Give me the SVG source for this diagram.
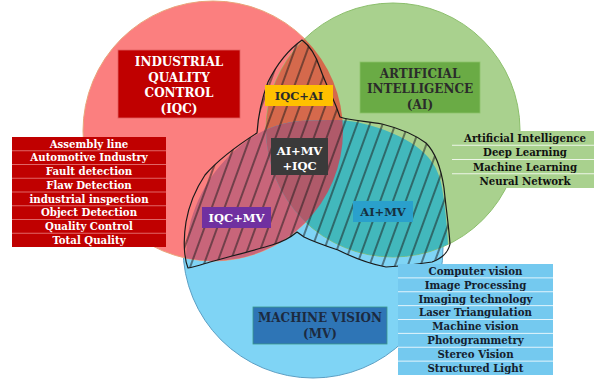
<svg xmlns="http://www.w3.org/2000/svg" width="596" height="381" viewBox="0 0 596 381">
<style>
.t{font-family:"DejaVu Serif","Liberation Serif",serif;font-weight:bold;text-anchor:middle}
.title{font-size:12px}
.lbl{font-size:11.5px}
.li{font-size:10.2px}
.w{fill:#ffffff}
.d{fill:#2b2b2b}
.sep{stroke-width:0.8}
</style>
<defs>
<clipPath id="cR"><circle cx="213" cy="131" r="130"/></clipPath>
<clipPath id="cG"><circle cx="393" cy="130" r="127"/></clipPath>
<path id="bshape" d="M186,300 L186,262 C186,245 188,232 191,220 C197,200 205,185 215,172 C230,153 245,140 263,131 C276,125 288,122 300,121 C313,120 326,120 338,120 C356,121 372,125 387,131 C405,138 418,146 428,157 C436,166 440,176 442,188 C445,205 447,225 448,245 L449,262 L449,300 Z"/>
<pattern id="hatch" patternUnits="userSpaceOnUse" width="12" height="12" patternTransform="rotate(20)">
<line x1="6" y1="-1" x2="6" y2="13" stroke="#1a1a1a" stroke-width="1"/>
</pattern>
</defs>
<rect width="596" height="381" fill="#ffffff"/>
<g id="circles">
<circle cx="313" cy="248" r="130" fill="#7fd4f5" stroke="#5b9fc4" stroke-width="1"/>
<circle cx="213" cy="131" r="130" fill="#fb7f7f" stroke="#e9a57a" stroke-width="1"/>
<circle cx="393" cy="130" r="127" fill="#a9d18e" stroke="#8cbf6c" stroke-width="1"/>
<circle cx="393" cy="130" r="127" fill="#d5694c" clip-path="url(#cR)"/>
<use href="#bshape" fill="#c8657a" clip-path="url(#cR)"/>
<use href="#bshape" fill="#42b8bc" clip-path="url(#cG)"/>
<g clip-path="url(#cR)"><use href="#bshape" fill="#b05a6a" clip-path="url(#cG)"/></g>
</g>
<g id="overlap-hatch">
<path d="M302,40 C310,46 316,56 320,68 C325,82 331,94 336,106 L340,117 C352,121 368,121 382,124 C398,128 414,134 426,143 C436,153 441,168 444,188 C446,208 449,228 450,244 C448,254 440,259 432,262 C418,264 402,266 386,267 C370,264 352,257 338,250 C326,246 314,242 304,237 L297,232 C290,238 282,242 272,245 C255,250 232,256 210,262 C200,265 194,267 188,268 C184,258 183,240 186,222 C189,205 195,190 205,175 C218,160 235,147 257,133 C258,118 262,98 268,82 C276,66 288,50 302,40 Z" fill="url(#hatch)" stroke="#1a1a1a" stroke-width="1.2" stroke-linejoin="round"/>
</g>
<g id="iqc">
<rect x="118" y="50" width="122" height="68" fill="#c00000" stroke="#e06060" stroke-width="0.8"/>
<text class="t title w" x="179" y="66">INDUSTRIAL</text>
<text class="t title w" x="179" y="82">QUALITY</text>
<text class="t title w" x="179" y="97">CONTROL</text>
<text class="t title w" x="179" y="113">(IQC)</text>
</g>
<g id="ai">
<rect x="360" y="62" width="120" height="51" fill="#6aab45" stroke="#8cc46a" stroke-width="0.8"/>
<text class="t title d" x="420" y="78">ARTIFICIAL</text>
<text class="t title d" x="420" y="93">INTELLIGENCE</text>
<text class="t title d" x="420" y="109">(AI)</text>
</g>
<g id="mv">
<rect x="253" y="307" width="134" height="37" fill="#2e75b6" stroke="#3d9a8a" stroke-width="0.8"/>
<text class="t title" fill="#1c2a40" x="320" y="322">MACHINE VISION</text>
<text class="t title" fill="#1c2a40" x="320" y="338">(MV)</text>
</g>
<g id="iqc-ai">
<rect x="265" y="85" width="68" height="21" fill="#ffc000"/>
<text class="t lbl d" x="299" y="99.5">IQC+AI</text>
</g>
<g id="ai-mv-iqc">
<rect x="271" y="138" width="57" height="37" fill="#3a3a3a"/>
<text class="t lbl w" x="299.5" y="155">AI+MV</text>
<text class="t lbl w" x="299.5" y="170">+IQC</text>
</g>
<g id="iqc-mv">
<rect x="202" y="207" width="69" height="21" fill="#7030a0"/>
<text class="t lbl w" x="236.5" y="221.5">IQC+MV</text>
</g>
<g id="ai-mv">
<rect x="353" y="201" width="60" height="21" fill="#2aa0cc"/>
<text class="t lbl" fill="#16303f" x="383" y="215.5">AI+MV</text>
</g>
<g id="iqc-list">
<rect x="12" y="137" width="154" height="110" fill="#c00000"/>
<g stroke="#e88080" class="sep">
<line x1="12" y1="150.75" x2="166" y2="150.75"/>
<line x1="12" y1="164.5" x2="166" y2="164.5"/>
<line x1="12" y1="178.25" x2="166" y2="178.25"/>
<line x1="12" y1="192" x2="166" y2="192"/>
<line x1="12" y1="205.75" x2="166" y2="205.75"/>
<line x1="12" y1="219.5" x2="166" y2="219.5"/>
<line x1="12" y1="233.25" x2="166" y2="233.25"/>
</g>
<text class="t li w" x="89" y="147.5">Assembly line</text>
<text class="t li w" x="89" y="161.25">Automotive Industry</text>
<text class="t li w" x="89" y="175">Fault detection</text>
<text class="t li w" x="89" y="188.75">Flaw Detection</text>
<text class="t li w" x="89" y="202.5">industrial inspection</text>
<text class="t li w" x="89" y="216.25">Object Detection</text>
<text class="t li w" x="89" y="230">Quality Control</text>
<text class="t li w" x="89" y="243.75">Total Quality</text>
</g>
<g id="ai-list">
<rect x="452" y="131" width="142" height="57" fill="#a9d18e"/>
<g stroke="#ffffff" class="sep">
<line x1="452" y1="145.25" x2="594" y2="145.25"/>
<line x1="452" y1="159.5" x2="594" y2="159.5"/>
<line x1="452" y1="173.75" x2="594" y2="173.75"/>
</g>
<text class="t li" fill="#111" x="525" y="142">Artificial Intelligence</text>
<text class="t li" fill="#111" x="525" y="156.25">Deep Learning</text>
<text class="t li" fill="#111" x="525" y="170.5">Machine Learning</text>
<text class="t li" fill="#111" x="525" y="184.75">Neural Network</text>
</g>
<g id="mv-list">
<rect x="398" y="264" width="155" height="111" fill="#74c9ef"/>
<g stroke="#ffffff" class="sep">
<line x1="398" y1="277.875" x2="553" y2="277.875"/>
<line x1="398" y1="291.75" x2="553" y2="291.75"/>
<line x1="398" y1="305.625" x2="553" y2="305.625"/>
<line x1="398" y1="319.5" x2="553" y2="319.5"/>
<line x1="398" y1="333.375" x2="553" y2="333.375"/>
<line x1="398" y1="347.25" x2="553" y2="347.25"/>
<line x1="398" y1="361.125" x2="553" y2="361.125"/>
</g>
<text class="t li" fill="#14202e" x="475.5" y="274.7">Computer vision</text>
<text class="t li" fill="#14202e" x="475.5" y="288.6">Image Processing</text>
<text class="t li" fill="#14202e" x="475.5" y="302.5">Imaging technology</text>
<text class="t li" fill="#14202e" x="475.5" y="316.3">Laser Triangulation</text>
<text class="t li" fill="#14202e" x="475.5" y="330.2">Machine vision</text>
<text class="t li" fill="#14202e" x="475.5" y="344.1">Photogrammetry</text>
<text class="t li" fill="#14202e" x="475.5" y="358">Stereo Vision</text>
<text class="t li" fill="#14202e" x="475.5" y="371.8">Structured Light</text>
</g>
</svg>
